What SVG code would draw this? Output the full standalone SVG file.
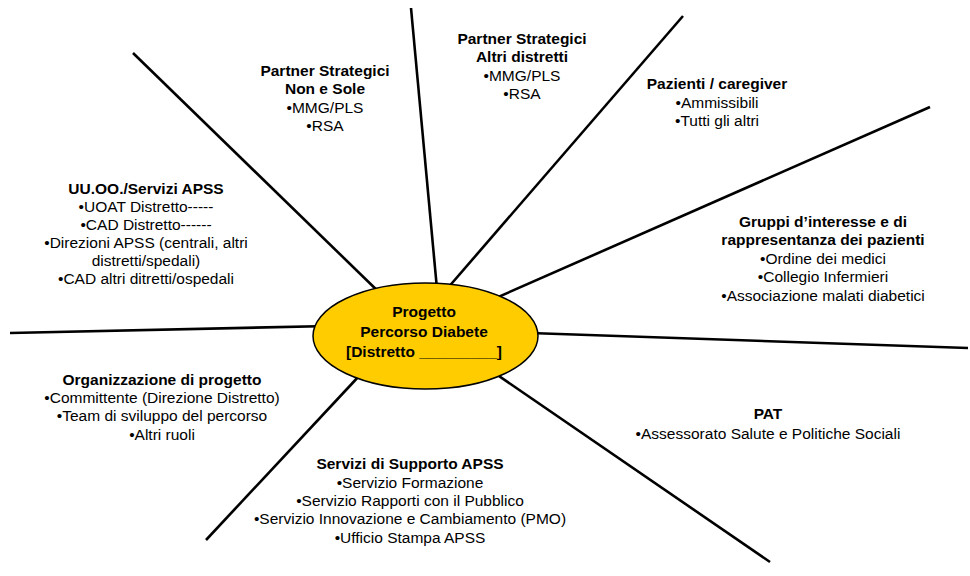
<svg xmlns="http://www.w3.org/2000/svg" width="970" height="576" viewBox="0 0 970 576">
<style>
.ln{stroke:#000;stroke-width:2.6;fill:none;stroke-linecap:butt}
text{font-family:"Liberation Sans",Arial,sans-serif;font-size:15.5px;fill:#000;text-anchor:middle}
.b{font-weight:bold}
</style>
<rect width="970" height="576" fill="#fff"/>
<g id="connectors">
<line class="ln" x1="133" y1="53" x2="385" y2="298"/>
<line class="ln" x1="411" y1="8" x2="438" y2="300"/>
<line class="ln" x1="683" y1="16" x2="440" y2="297"/>
<line class="ln" x1="930" y1="107" x2="480" y2="305"/>
<line class="ln" x1="968" y1="348" x2="500" y2="332"/>
<line class="ln" x1="770" y1="562" x2="480" y2="363"/>
<line class="ln" x1="206" y1="540" x2="360" y2="375"/>
<line class="ln" x1="10" y1="333" x2="330" y2="326"/>
</g>
<g id="center">
<ellipse cx="425.5" cy="336" rx="112.5" ry="53" fill="#FFCC00" stroke="#000" stroke-width="1.5"/>
<text class="b" x="424" y="317">Progetto</text>
<text class="b" x="424" y="337">Percorso Diabete</text>
<text class="b" x="424" y="357">[Distretto _________]</text>
</g>
<g id="uuoo">
<text class="b" x="146" y="194">UU.OO./Servizi APSS</text>
<text x="146" y="212">•UOAT Distretto-----</text>
<text x="146" y="230">•CAD Distretto------</text>
<text x="146" y="248">•Direzioni APSS (centrali, altri</text>
<text x="146" y="266">distretti/spedali)</text>
<text x="146" y="284">•CAD altri ditretti/ospedali</text>
</g>
<g id="partner-nonsole">
<text class="b" x="325" y="76">Partner Strategici</text>
<text class="b" x="325" y="94">Non e Sole</text>
<text x="325" y="113">•MMG/PLS</text>
<text x="325" y="131">•RSA</text>
</g>
<g id="partner-altri">
<text class="b" x="522" y="44">Partner Strategici</text>
<text class="b" x="522" y="62">Altri distretti</text>
<text x="522" y="81">•MMG/PLS</text>
<text x="522" y="99">•RSA</text>
</g>
<g id="pazienti">
<text class="b" x="717" y="89">Pazienti / caregiver</text>
<text x="717" y="108">•Ammissibili</text>
<text x="717" y="126">•Tutti gli altri</text>
</g>
<g id="gruppi">
<text class="b" x="823" y="227">Gruppi d’interesse e di</text>
<text class="b" x="823" y="245">rappresentanza dei pazienti</text>
<text x="823" y="264">•Ordine dei medici</text>
<text x="823" y="282">•Collegio Infermieri</text>
<text x="823" y="301">•Associazione malati diabetici</text>
</g>
<g id="organizzazione">
<text class="b" x="162" y="385">Organizzazione di progetto</text>
<text x="162" y="403">•Committente (Direzione Distretto)</text>
<text x="162" y="421">•Team di sviluppo del percorso</text>
<text x="162" y="440">•Altri ruoli</text>
</g>
<g id="supporto">
<text class="b" x="410" y="469">Servizi di Supporto APSS</text>
<text x="410" y="488">•Servizio Formazione</text>
<text x="410" y="506">•Servizio Rapporti con il Pubblico</text>
<text x="410" y="524">•Servizio Innovazione e Cambiamento (PMO)</text>
<text x="410" y="543">•Ufficio Stampa APSS</text>
</g>
<g id="pat">
<text class="b" x="768" y="419">PAT</text>
<text x="768" y="439">•Assessorato Salute e Politiche Sociali</text>
</g>
</svg>
